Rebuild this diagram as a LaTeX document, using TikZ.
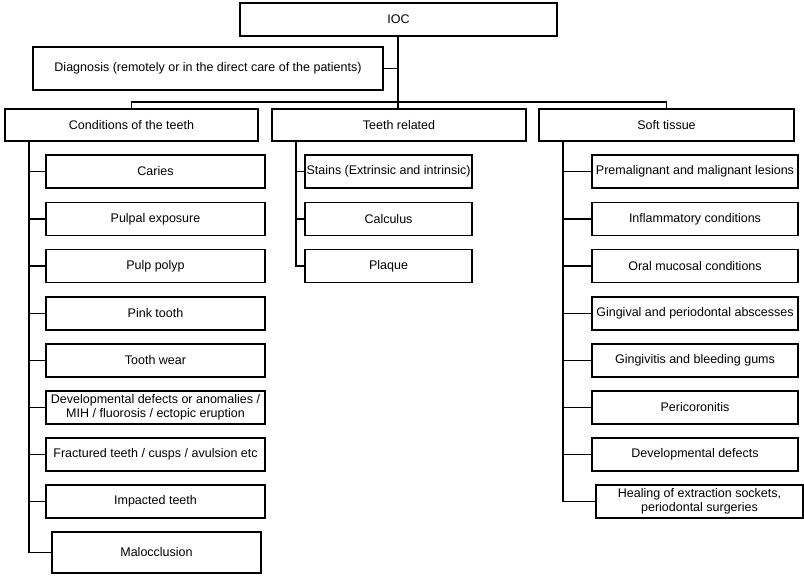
\documentclass[tikz,border=0pt]{standalone}
\usepackage{fontspec}
\setmainfont{Liberation Sans}
\begin{document}
\begin{tikzpicture}[x=1pt,y=-1pt,
  box/.style={draw, line width=1.6pt, inner sep=0.5pt, align=center,
    font=\fontsize{12.5}{14}\selectfont, minimum height=33pt},
  link/.style={line width=1.6pt}]
\useasboundingbox (0,0) rectangle (804,576);
% top
\node[box, minimum width=317pt] (ioc) at (398.5,19.5) {IOC};
\node[box, minimum width=350pt, minimum height=43pt] (diag) at (208,68.5) {Diagnosis (remotely or in the direct care of the patients)};
\node[box, minimum width=253pt, minimum height=32pt] (cond) at (131.5,125) {Conditions of the teeth};
\node[box, minimum width=254pt, minimum height=32pt] (teeth) at (399,125) {Teeth related};
\node[box, minimum width=255pt, minimum height=32pt] (soft) at (666.5,125) {Soft tissue};
% left column
\node[box, minimum width=219pt] (l1) at (155.5,171.5) {Caries};
\node[box, minimum width=219pt] (l2) at (155.5,219) {Pulpal exposure};
\node[box, minimum width=219pt] (l3) at (155.5,266) {Pulp polyp};
\node[box, minimum width=219pt] (l4) at (155.5,313.5) {Pink tooth};
\node[box, minimum width=219pt] (l5) at (155.5,360.5) {Tooth wear};
\node[box, minimum width=219pt] (l6) at (155.5,407.5) {Developmental defects or anomalies /\\MIH / fluorosis / ectopic eruption};
\node[box, minimum width=219pt] (l7) at (155.5,454.5) {Fractured teeth / cusps / avulsion etc};
\node[box, minimum width=219pt] (l8) at (155.5,501.5) {Impacted teeth};
\node[box, minimum width=209pt, minimum height=41pt] (l9) at (156.5,552.5) {Malocclusion};
% middle column
\node[box, minimum width=167pt] (m1) at (388.5,171.5) {Stains (Extrinsic and intrinsic)};
\node[box, minimum width=167pt] (m2) at (388.5,219) {Calculus};
\node[box, minimum width=167pt] (m3) at (388.5,266) {Plaque};
% right column
\node[box, minimum width=206pt] (r1) at (695,171.5) {Premalignant and malignant lesions};
\node[box, minimum width=206pt] (r2) at (695,219) {Inflammatory conditions};
\node[box, minimum width=206pt] (r3) at (695,266) {Oral mucosal conditions};
\node[box, minimum width=206pt] (r4) at (695,313.5) {Gingival and periodontal abscesses};
\node[box, minimum width=206pt] (r5) at (695,360.5) {Gingivitis and bleeding gums};
\node[box, minimum width=206pt] (r6) at (695,407.5) {Pericoronitis};
\node[box, minimum width=206pt] (r7) at (695,454.5) {Developmental defects};
\node[box, minimum width=207pt] (r8) at (699.5,501.5) {Healing of extraction sockets,\\periodontal surgeries};
% connectors top
\coordinate (bus) at (398,102);
\draw[link] (ioc.south -| bus) -- (bus);
\draw[link] (diag.east) -- (diag.east -| bus);
\draw[link] (cond.north) |- (bus) -| (soft.north);
\draw[link] (bus) -- (teeth.north -| bus);
% trunks
\coordinate (lt) at ([xshift=25pt]cond.south west);
\coordinate (mt) at ([xshift=25pt]teeth.south west);
\coordinate (rt) at ([xshift=25pt]soft.south west);
\draw[link] (lt) |- (l9.west);
\foreach \n in {l1,l2,l3,l4,l5,l6,l7,l8} \draw[link] (lt |- \n.west) -- (\n.west);
\draw[link] (mt) |- (m3.west);
\foreach \n in {m1,m2} \draw[link] (mt |- \n.west) -- (\n.west);
\draw[link] (rt) |- (r8.west);
\foreach \n in {r1,r2,r3,r4,r5,r6,r7} \draw[link] (rt |- \n.west) -- (\n.west);
\end{tikzpicture}
\end{document}
